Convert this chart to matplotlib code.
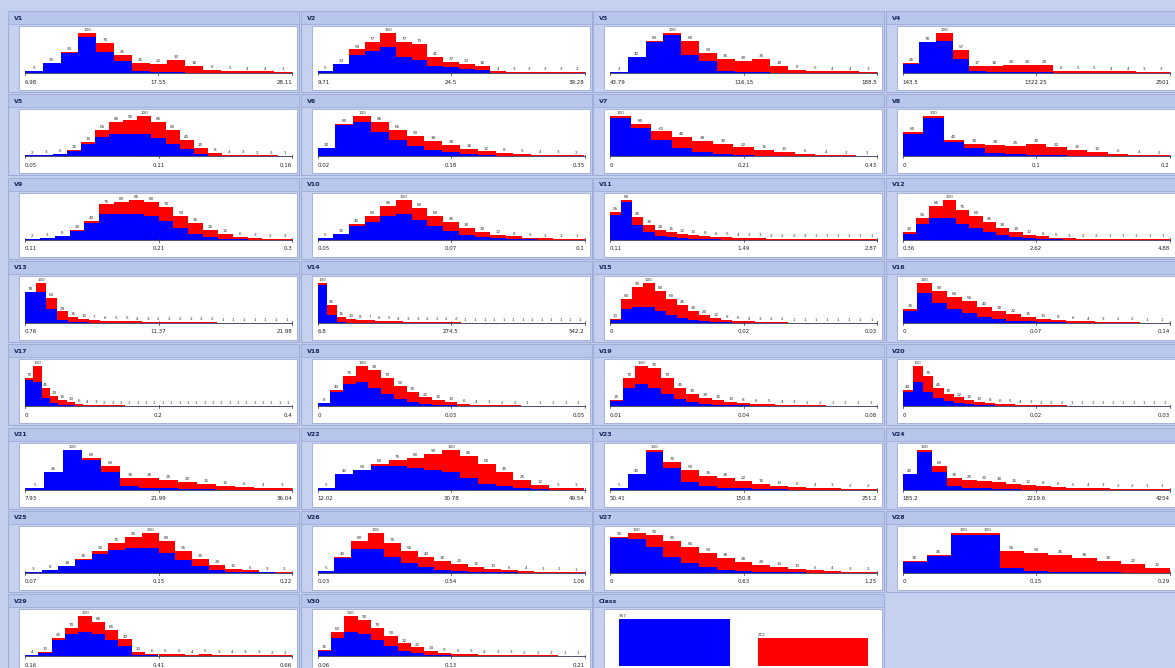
import matplotlib
matplotlib.use('Agg')
import matplotlib.pyplot as plt
from matplotlib.patches import Rectangle

W_PX, H_PX = 1175, 668

# bin counts per attribute, blue = class B, red = class M (stacked)
V1_BLUE = [5, 25, 50, 90, 53, 30, 6, 3, 2, 1, 0, 0, 0, 0, 0]
V1_RED = [0, 0, 3, 10, 22, 15, 19, 19, 31, 17, 8, 5, 4, 4, 3]
V2_BLUE = [4, 23, 45, 55, 64, 41, 32, 18, 14, 9, 7, 1, 1, 1, 1, 1, 0]
V2_RED = [1, 0, 14, 22, 36, 36, 41, 23, 13, 14, 11, 3, 2, 2, 2, 2, 2]
V3_BLUE = [3, 40, 78, 95, 45, 30, 6, 3, 2, 1, 0, 0, 0, 0, 0]
V3_RED = [0, 0, 2, 5, 35, 20, 29, 27, 33, 17, 8, 5, 4, 4, 3]
V4_BLUE = [22, 78, 80, 35, 5, 3, 2, 2, 2, 1, 0, 0, 0, 0, 0, 0]
V4_RED = [4, 0, 20, 22, 12, 15, 18, 18, 18, 5, 5, 5, 4, 4, 3, 3]
V5_BLUE = [2, 3, 6, 14, 30, 48, 55, 55, 55, 45, 30, 18, 6, 2, 1, 0, 0, 0, 0]
V5_RED = [0, 0, 0, 1, 5, 17, 30, 35, 45, 40, 35, 22, 14, 6, 3, 3, 2, 2, 1]
V6_BLUE = [20, 78, 85, 60, 40, 25, 16, 10, 5, 3, 1, 1, 0, 0, 0]
V6_RED = [0, 2, 15, 25, 25, 25, 22, 18, 13, 9, 7, 4, 4, 3, 2]
V7_BLUE = [95, 70, 40, 20, 10, 5, 3, 1, 1, 0, 0, 0, 0]
V7_RED = [5, 10, 22, 28, 28, 25, 19, 14, 9, 6, 4, 2, 1]
V8_BLUE = [55, 95, 35, 20, 8, 5, 4, 3, 2, 1, 0, 0, 0]
V8_RED = [5, 5, 5, 10, 20, 20, 26, 19, 13, 9, 6, 4, 2]
V9_BLUE = [2, 3, 8, 18, 35, 55, 55, 55, 50, 40, 25, 12, 5, 2, 1, 0, 0, 0]
V9_RED = [0, 0, 0, 2, 5, 20, 25, 30, 30, 30, 25, 23, 15, 10, 5, 3, 2, 2]
V10_BLUE = [5, 15, 35, 45, 60, 65, 50, 35, 22, 12, 6, 3, 2, 1, 0, 0, 0]
V10_RED = [0, 0, 5, 15, 25, 35, 30, 25, 23, 18, 14, 9, 6, 4, 3, 2, 1]
V11_BLUE = [50, 75, 30, 15, 8, 5, 3, 2, 1, 1, 0, 0, 0, 0, 0, 0, 0, 0, 0, 0, 0, 0, 0, 0]
V11_RED = [5, 5, 15, 15, 12, 10, 9, 8, 7, 5, 5, 4, 3, 3, 2, 2, 2, 2, 1, 1, 1, 1, 1, 1]
V12_BLUE = [15, 40, 55, 55, 40, 28, 18, 12, 7, 4, 2, 1, 0, 0, 0, 0, 0, 0, 0, 0]
V12_RED = [5, 15, 30, 45, 35, 32, 27, 18, 13, 8, 6, 4, 3, 2, 2, 1, 1, 1, 1, 1]
V13_BLUE = [78, 78, 34, 8, 3, 2, 1, 0, 0, 0, 0, 0, 0, 0, 0, 0, 0, 0, 0, 0, 0, 0, 0, 0, 0]
V13_RED = [0, 22, 29, 21, 12, 8, 6, 6, 5, 5, 4, 3, 2, 2, 2, 2, 2, 2, 1, 1, 1, 1, 1, 1, 1]
V14_BLUE = [95, 20, 3, 1, 0, 0, 0, 0, 0, 0, 0, 0, 0, 0, 0, 0, 0, 0, 0, 0, 0, 0, 0, 0, 0, 0, 0, 0]
V14_RED = [5, 25, 12, 9, 8, 7, 6, 5, 4, 3, 3, 2, 2, 2, 2, 1, 1, 1, 1, 1, 1, 1, 1, 1, 1, 1, 1, 1]
V15_BLUE = [8, 35, 40, 40, 30, 20, 12, 8, 5, 3, 2, 1, 0, 0, 0, 0, 0, 0, 0, 0, 0, 0, 0, 0]
V15_RED = [2, 25, 50, 60, 50, 40, 33, 22, 15, 9, 6, 5, 4, 3, 2, 2, 1, 1, 1, 1, 1, 1, 1, 1]
V16_BLUE = [30, 75, 50, 35, 25, 15, 10, 6, 4, 3, 2, 1, 0, 0, 0, 0, 0, 0]
V16_RED = [5, 25, 30, 30, 30, 25, 20, 16, 11, 7, 6, 5, 4, 3, 2, 2, 1, 1]
V17_BLUE = [65, 60, 20, 8, 3, 2, 1, 0, 0, 0, 0, 0, 0, 0, 0, 0,
            0, 0, 0, 0, 0, 0, 0, 0, 0, 0, 0, 0, 0, 0, 0, 0]
V17_RED = [5, 40, 25, 17, 12, 8, 5, 4, 3, 2, 2, 2, 1, 1, 1, 1,
           1, 1, 1, 1, 1, 1, 1, 1, 1, 1, 1, 1, 1, 1, 1, 1]
V18_BLUE = [8, 35, 55, 60, 45, 30, 18, 10, 6, 3, 2, 1, 0, 0, 0, 0, 0, 0, 0, 0, 0]
V18_RED = [0, 5, 20, 40, 45, 40, 32, 25, 16, 12, 8, 5, 4, 3, 2, 2, 1, 1, 1, 1, 1]
V19_BLUE = [12, 45, 55, 45, 30, 18, 10, 6, 4, 3, 2, 1, 0, 0, 0, 0, 0, 0, 0, 0, 0]
V19_RED = [3, 25, 45, 50, 40, 27, 20, 14, 11, 7, 6, 5, 5, 4, 3, 2, 2, 1, 1, 1, 1]
V20_BLUE = [35, 60, 35, 20, 12, 8, 5, 3, 2, 1, 0, 0, 0, 0, 0, 0, 0, 0, 0, 0, 0, 0, 0, 0, 0, 0]
V20_RED = [5, 40, 40, 25, 18, 14, 10, 7, 6, 5, 5, 4, 3, 2, 2, 2, 1, 1, 1, 1, 1, 1, 1, 1, 1, 1]
V21_BLUE = [5, 45, 98, 75, 45, 8, 4, 3, 2, 1, 0, 0, 0, 0]
V21_RED = [0, 0, 2, 5, 15, 22, 24, 22, 18, 14, 10, 6, 4, 3]
V22_BLUE = [5, 40, 50, 60, 60, 55, 50, 45, 30, 15, 8, 3, 1, 0, 0]
V22_RED = [0, 0, 0, 5, 15, 25, 40, 55, 55, 50, 37, 22, 11, 5, 3]
V23_BLUE = [5, 40, 95, 55, 20, 8, 5, 3, 2, 1, 0, 0, 0, 0, 0]
V23_RED = [0, 0, 5, 15, 30, 27, 23, 19, 13, 9, 6, 4, 3, 2, 2]
V24_BLUE = [40, 95, 45, 10, 5, 3, 2, 1, 0, 0, 0, 0, 0, 0, 0, 0, 0, 0]
V24_RED = [0, 5, 15, 20, 20, 19, 16, 14, 12, 8, 6, 5, 4, 3, 2, 2, 1, 1]
V25_BLUE = [3, 8, 18, 33, 48, 58, 62, 62, 50, 32, 18, 8, 3, 2, 1, 0]
V25_RED = [0, 0, 0, 2, 7, 17, 28, 38, 30, 23, 17, 12, 7, 4, 2, 2]
V26_BLUE = [5, 38, 60, 60, 40, 25, 15, 8, 5, 3, 2, 1, 0, 0, 0, 0]
V26_RED = [0, 2, 20, 40, 35, 30, 25, 22, 17, 12, 8, 5, 4, 3, 2, 1]
V27_BLUE = [88, 85, 65, 40, 25, 15, 8, 5, 3, 2, 1, 0, 0, 0, 0]
V27_RED = [2, 15, 30, 40, 40, 35, 30, 23, 17, 12, 9, 6, 4, 3, 2]
V28_BLUE = [28, 42, 95, 95, 12, 5, 3, 2, 1, 0, 0]
V28_RED = [2, 3, 5, 5, 43, 45, 42, 36, 29, 22, 12]
V29_BLUE = [4, 8, 40, 55, 60, 55, 40, 25, 3, 2, 1, 1, 0, 0, 0, 0, 0, 0, 0, 0]
V29_RED = [0, 2, 5, 15, 40, 30, 25, 17, 7, 4, 4, 4, 4, 5, 3, 4, 3, 3, 2, 2]
V30_BLUE = [12, 45, 60, 55, 40, 25, 14, 8, 4, 2, 1, 1, 0, 0, 0, 0, 0, 0, 0, 0]
V30_RED = [3, 15, 40, 35, 30, 25, 18, 14, 10, 7, 5, 4, 4, 3, 3, 2, 2, 2, 1, 1]

CLASS_NAMES = ["B", "M"]
CLASS_COUNTS = [357, 212]

# min / mid / max shown under each histogram
TICK_LABELS = [
    ("6.98", "17.55", "28.11"), ("9.71", "24.5", "39.28"), ("43.79", "116.15", "188.5"),
    ("143.5", "1322.25", "2501"), ("0.05", "0.11", "0.16"), ("0.02", "0.18", "0.35"),
    ("0", "0.21", "0.43"), ("0", "0.1", "0.2"), ("0.11", "0.21", "0.3"),
    ("0.05", "0.07", "0.1"), ("0.11", "1.49", "2.87"), ("0.36", "2.62", "4.88"),
    ("0.76", "11.37", "21.98"), ("6.8", "274.5", "542.2"), ("0", "0.02", "0.03"),
    ("0", "0.07", "0.14"), ("0", "0.2", "0.4"), ("0", "0.03", "0.05"),
    ("0.01", "0.04", "0.08"), ("0", "0.02", "0.03"), ("7.93", "21.99", "36.04"),
    ("12.02", "30.78", "49.54"), ("50.41", "150.8", "251.2"), ("185.2", "2219.6", "4254"),
    ("0.07", "0.15", "0.22"), ("0.03", "0.54", "1.06"), ("0", "0.63", "1.25"),
    ("0", "0.15", "0.29"), ("0.16", "0.41", "0.66"), ("0.06", "0.13", "0.21"),
]

BLUES = [V1_BLUE, V2_BLUE, V3_BLUE, V4_BLUE, V5_BLUE, V6_BLUE, V7_BLUE, V8_BLUE,
         V9_BLUE, V10_BLUE, V11_BLUE, V12_BLUE, V13_BLUE, V14_BLUE, V15_BLUE,
         V16_BLUE, V17_BLUE, V18_BLUE, V19_BLUE, V20_BLUE, V21_BLUE, V22_BLUE,
         V23_BLUE, V24_BLUE, V25_BLUE, V26_BLUE, V27_BLUE, V28_BLUE, V29_BLUE, V30_BLUE]
REDS = [V1_RED, V2_RED, V3_RED, V4_RED, V5_RED, V6_RED, V7_RED, V8_RED,
        V9_RED, V10_RED, V11_RED, V12_RED, V13_RED, V14_RED, V15_RED,
        V16_RED, V17_RED, V18_RED, V19_RED, V20_RED, V21_RED, V22_RED,
        V23_RED, V24_RED, V25_RED, V26_RED, V27_RED, V28_RED, V29_RED, V30_RED]

BG = '#c6d0ef'
PANEL_EDGE = '#9fadd9'
HEADER_BG = '#b9c6ec'
TITLE_COLOR = '#1a2458'
BLUE = '#0000ff'
RED = '#ff0000'

COL_STEP = 292.5
ROW_STEP = 83.3
PANEL_W, PANEL_H = 291, 81
PLOT_DX, PLOT_DY = 11, 15       # white plot area offset inside panel
PLOT_W, PLOT_H = 278, 64
BASE_FROM_TOP = 47              # baseline position in the white area
BAR_MAX = 40                    # tallest bar height in px
CLASS_BASE = 57                 # the class bar chart sits lower
CLASS_MAX = 47


def fig_rect(x, y, w, h):
    return [x / W_PX, 1 - (y + h) / H_PX, w / W_PX, h / H_PX]


def draw_frame(fig, x0, y0, name):
    # panel frame and header sit behind the axes
    fig.patches.append(Rectangle((x0 / W_PX, 1 - (y0 + PANEL_H) / H_PX),
                                 PANEL_W / W_PX, PANEL_H / H_PX,
                                 transform=fig.transFigure, fc=BG, ec=PANEL_EDGE,
                                 lw=0.8, zorder=-10))
    fig.patches.append(Rectangle((x0 / W_PX, 1 - (y0 + 13) / H_PX),
                                 PANEL_W / W_PX, 13 / H_PX,
                                 transform=fig.transFigure, fc=HEADER_BG, ec=PANEL_EDGE,
                                 lw=0.6, zorder=-9))
    fig.text((x0 + 6) / W_PX, 1 - (y0 + 7) / H_PX, name, fontsize=4.5,
             fontweight='bold', color=TITLE_COLOR, va='center', ha='left')
    ax = fig.add_axes(fig_rect(x0 + PLOT_DX, y0 + PLOT_DY, PLOT_W, PLOT_H))
    ax.set_zorder(5)
    ax.set_facecolor('white')
    for s in ax.spines.values():
        s.set_color('#a6b2dc')
        s.set_linewidth(0.7)
    ax.set_xticks([])
    ax.set_yticks([])
    return ax


def draw_hist(ax, blue, red, ticks):
    n = len(blue)
    totals = [b + r for b, r in zip(blue, red)]
    top = max(totals)
    unit = top / BAR_MAX
    sx = n / (PLOT_W - 11)
    ax.set_xlim(-6 * sx, n + 5 * sx)
    ax.set_ylim(-(PLOT_H - BASE_FROM_TOP) * unit, top + (BASE_FROM_TOP - BAR_MAX) * unit)

    xs = range(n)
    ax.bar(xs, blue, width=1.0, align='edge', color=BLUE, linewidth=0)
    ax.bar(xs, red, bottom=blue, width=1.0, align='edge', color=RED, linewidth=0)
    for k, t in enumerate(totals):
        ax.text(k + 0.5, t + 0.8 * unit, str(t), fontsize=3, ha='center',
                va='bottom', color='#333333')

    ax.plot([0, n], [0, 0], color='#30305a', lw=0.6)
    for xt in (0, n / 2, n):
        ax.plot([xt, xt], [-2 * unit, 1.5 * unit], color='#30305a', lw=0.5)
    ax.text(0, -9 * unit, ticks[0], fontsize=4, ha='left', va='center', color='#222222')
    ax.text(n / 2, -9 * unit, ticks[1], fontsize=4, ha='center', va='center', color='#222222')
    ax.text(n, -9 * unit, ticks[2], fontsize=4, ha='right', va='center', color='#222222')


def draw_class(ax, names, counts):
    top = max(counts)
    unit = top / CLASS_MAX
    ax.set_xlim(-0.51, 1.5)
    ax.set_ylim(-(PLOT_H - CLASS_BASE) * unit, top + (CLASS_BASE - CLASS_MAX) * unit)
    ax.bar([0], [counts[0]], width=0.8, color=BLUE, linewidth=0)
    ax.bar([1], [counts[1]], width=0.8, color=RED, linewidth=0)
    for k, c in enumerate(counts):
        ax.text(k - 0.4, c + 0.8 * unit, str(c), fontsize=3, ha='left',
                va='bottom', color='#333333')
    for k, nm in enumerate(names):
        ax.text(k, -9 * unit, nm, fontsize=4, ha='center', va='center', color='#222222')


def main():
    fig = plt.figure(figsize=(W_PX / 100, H_PX / 100), dpi=100)
    fig.patch.set_facecolor(BG)

    for i in range(31):
        c, r = i % 4, i // 4
        x0 = 8 + c * COL_STEP
        y0 = 11 + r * ROW_STEP
        if i < 30:
            ax = draw_frame(fig, x0, y0, f"V{i + 1}")
            draw_hist(ax, BLUES[i], REDS[i], TICK_LABELS[i])
        else:
            ax = draw_frame(fig, x0, y0, "Class")
            draw_class(ax, CLASS_NAMES, CLASS_COUNTS)

    fig.savefig('out.png', dpi=100, facecolor=BG)


if __name__ == '__main__':
    main()
